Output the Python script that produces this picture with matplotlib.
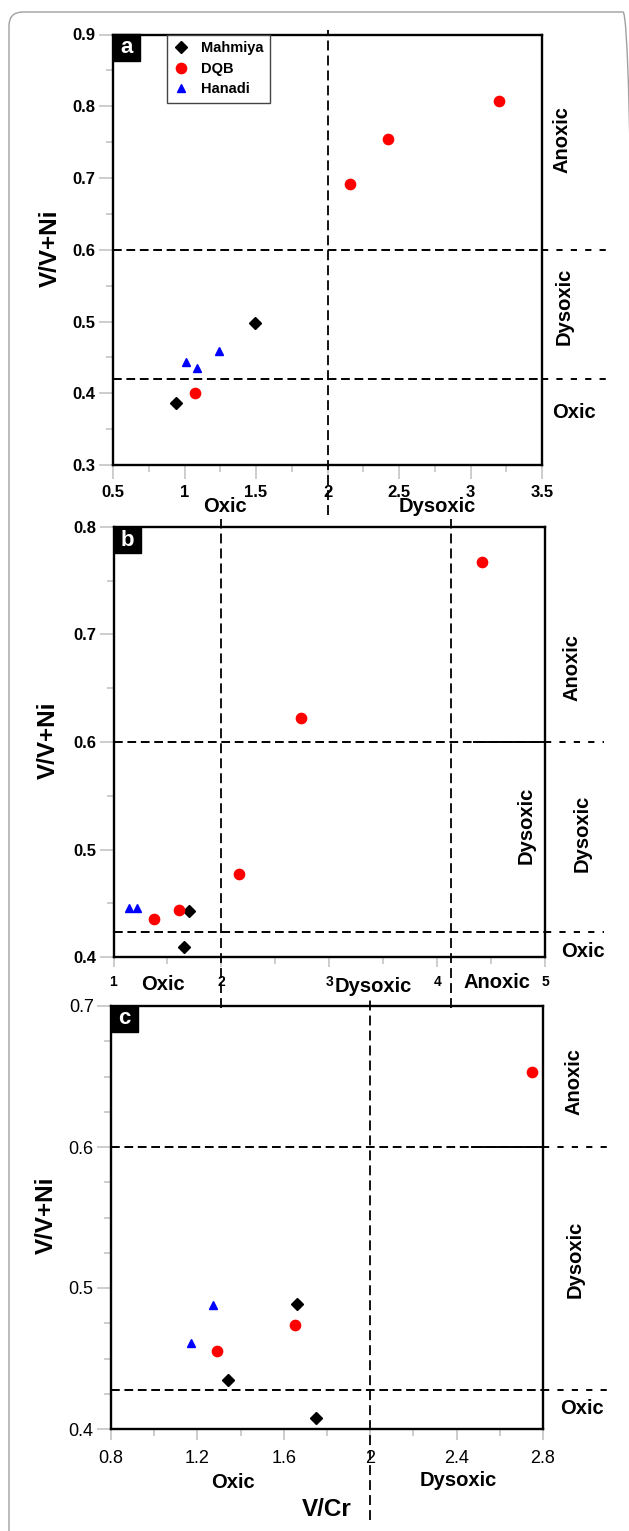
import matplotlib
matplotlib.use('Agg')
import matplotlib.pyplot as plt
from matplotlib.ticker import MultipleLocator, FuncFormatter
from matplotlib.patches import Rectangle, FancyBboxPatch
from matplotlib.transforms import IdentityTransform

# ---- data ----
series_names = ['Mahmiya', 'DQB', 'Hanadi']

# panel a
mah_a_x = [0.94, 1.49]
mah_a_y = [0.387, 0.498]
dqb_a_x = [1.07, 2.16, 2.42, 3.20]
dqb_a_y = [0.400, 0.692, 0.754, 0.808]
han_a_x = [1.01, 1.09, 1.24]
han_a_y = [0.443, 0.435, 0.459]

# panel b
mah_b_x = [1.70, 1.65]
mah_b_y = [0.443, 0.409]
dqb_b_x = [1.38, 1.61, 2.16, 2.74, 4.42]
dqb_b_y = [0.435, 0.444, 0.477, 0.622, 0.767]
han_b_x = [1.14, 1.22]
han_b_y = [0.446, 0.446]

# panel c
mah_c_x = [1.34, 1.66, 1.75]
mah_c_y = [0.435, 0.489, 0.408]
dqb_c_x = [1.29, 1.65, 2.75]
dqb_c_y = [0.455, 0.474, 0.653]
han_c_x = [1.17, 1.27]
han_c_y = [0.461, 0.488]

# thresholds
hlines_a = [0.6, 0.42]
vlines_a = [2]
hlines_b = [0.6, 0.423]
vlines_b = [2, 4.13]
hlines_c = [0.6, 0.428]
vlines_c = [2]

W, H = 629, 1531
plt.rcParams['font.family'] = ['Liberation Sans', 'DejaVu Sans']

fig = plt.figure(figsize=(W / 100, H / 100), dpi=100)


def px_rect(l, r, t, b):
    return [l / W, 1 - b / H, (r - l) / W, (b - t) / H]


def ftext(x, y, s, **kw):
    fig.text(x / W, 1 - y / H, s, ha='center', va='center', **kw)


styles = [dict(marker='D', color='black', ms=5.8),
          dict(marker='o', color='red', ms=7.4),
          dict(marker='^', color='blue', ms=6.2)]

fmt = FuncFormatter(lambda v, p: '%g' % round(v, 3))


def make_panel(rect, xs, ys, xlim, ylim, xstep, ystep, hl, vl,
               hext, vtop, vbot, letter, tick_w, yfs, xfs, xl_len, xpad, solid_from=None):
    ax = fig.add_axes(rect)
    ax.set_facecolor('none')
    for (x, y), st in zip(zip(xs, ys), styles):
        ax.plot(x, y, ls='none', marker=st['marker'], color=st['color'],
                ms=st['ms'], mec=st['color'], zorder=5, clip_on=False)
    ax.set_xlim(*xlim)
    ax.set_ylim(*ylim)
    ax.xaxis.set_major_locator(MultipleLocator(xstep[0]))
    ax.xaxis.set_minor_locator(MultipleLocator(xstep[1]))
    ax.yaxis.set_major_locator(MultipleLocator(ystep[0]))
    ax.yaxis.set_minor_locator(MultipleLocator(ystep[1]))
    ax.xaxis.set_major_formatter(fmt)
    ax.yaxis.set_major_formatter(fmt)
    for s in ax.spines.values():
        s.set_linewidth(1.7)
    ax.tick_params(which='major', axis='y', length=10, width=1.1, color='#c0c0c0',
                   labelsize=yfs, pad=2.5)
    ax.tick_params(which='major', axis='x', length=xl_len, width=1.1, color='#c0c0c0',
                   labelsize=xfs, pad=xpad)
    ax.tick_params(which='minor', length=5, width=1.1, color='#c0c0c0')
    for lab in ax.get_xticklabels() + ax.get_yticklabels():
        lab.set_fontweight(tick_w)

    ytr = ax.get_yaxis_transform()
    xtr = ax.get_xaxis_transform()
    for h in hl:
        ax.plot([0, 1], [h, h], transform=ytr, color='black', lw=1.4,
                dashes=(4.5, 2.4), clip_on=False, zorder=3)
        ax.plot([1, hext], [h, h], transform=ytr, color='black', lw=1.4,
                dashes=(3.2, 4.2), clip_on=False, zorder=3)
    if solid_from is not None:
        ax.plot([solid_from, xlim[1]], [hl[0], hl[0]], color='black', lw=1.4, zorder=3)
    for v in vl:
        ax.plot([v, v], [vbot, vtop], transform=xtr, color='black', lw=1.3,
                dashes=(5.5, 2.8), clip_on=False, zorder=3)

    # panel letter
    bw = 27 / (rect[2] * W)
    bh = 26 / (rect[3] * H)
    ax.add_patch(Rectangle((0, 1 - bh), bw, bh, transform=ax.transAxes,
                           facecolor='black', edgecolor='black', zorder=6, clip_on=False))
    ax.text(bw / 2, 1 - bh / 2, letter, transform=ax.transAxes, color='white',
            fontsize=16, fontweight='bold', ha='center', va='center', zorder=7)
    return ax


# ---- panel a ----
ax_a = make_panel(px_rect(113, 542, 34.5, 465),
                  [mah_a_x, dqb_a_x, han_a_x], [mah_a_y, dqb_a_y, han_a_y],
                  (0.5, 3.5), (0.3, 0.9), (0.5, 0.25), (0.1, 0.05),
                  hlines_a, vlines_a, 1.149, 1.010, -0.116, 'a', 'bold', 12, 12, 10, 4.5)

handles = [plt.Line2D([], [], ls='none', marker=st['marker'], color=st['color'],
                      ms=st['ms']) for st in styles]
leg = ax_a.legend(handles, series_names, loc='upper left', bbox_to_anchor=(0.126, 1.0),
                  borderaxespad=0, frameon=True, fancybox=False, framealpha=1,
                  edgecolor='#444444', handlelength=1.0, handletextpad=0.9,
                  borderpad=0.45, labelspacing=0.45,
                  prop=dict(weight='bold', size=10.5))
leg.get_frame().set_linewidth(1.0)
leg.set_zorder(8)

lab_kw = dict(fontsize=14.5, fontweight='bold')
ftext(50, 248, 'V/V+Ni', rotation=90, fontsize=17.5, fontweight='bold')
ftext(562, 140, 'Anoxic', rotation=90, **lab_kw)
ftext(564, 306, 'Dysoxic', rotation=90, **lab_kw)
ftext(574, 413, 'Oxic', **lab_kw)
ftext(225, 507, 'Oxic', **lab_kw)
ftext(437, 507, 'Dysoxic', **lab_kw)

# ---- panel b ----
ax_b = make_panel(px_rect(113.5, 545, 527, 957),
                  [mah_b_x, dqb_b_x, han_b_x], [mah_b_y, dqb_b_y, han_b_y],
                  (1, 5), (0.4, 0.8), (1, 0.5), (0.1, 0.05),
                  hlines_b, vlines_b, 1.137, 1.019, -0.119, 'b', 'bold', 12, 10, 7, 6,
                  solid_from=4.34)

ftext(48, 740, 'V/V+Ni', rotation=90, fontsize=17.5, fontweight='bold')
ftext(572, 668, 'Anoxic', rotation=90, **lab_kw)
ftext(526, 825, 'Dysoxic', rotation=90, **lab_kw)
ftext(582, 833, 'Dysoxic', rotation=90, **lab_kw)
ftext(583, 952, 'Oxic', **lab_kw)
ftext(163, 984, 'Oxic', **lab_kw)
ftext(373, 987, 'Dysoxic', **lab_kw)
ftext(497, 982, 'Anoxic', **lab_kw)

# ---- panel c ----
ax_c = make_panel(px_rect(111, 543, 1006, 1429),
                  [mah_c_x, dqb_c_x, han_c_x], [mah_c_y, dqb_c_y, han_c_y],
                  (0.8, 2.8), (0.4, 0.7), (0.4, 0.2), (0.1, 0.025),
                  hlines_c, vlines_c, 1.150, 1.014, -0.215, 'c', 'normal', 13, 13, 8, 7)

ftext(46, 1215, 'V/V+Ni', rotation=90, fontsize=17.5, fontweight='bold')
ftext(574, 1082, 'Anoxic', rotation=90, **lab_kw)
ftext(575, 1259, 'Dysoxic', rotation=90, **lab_kw)
ftext(582, 1408, 'Oxic', **lab_kw)
ftext(233, 1482, 'Oxic', **lab_kw)
ftext(458, 1480, 'Dysoxic', **lab_kw)
ftext(327, 1510, 'V/Cr', fontsize=17.5, fontweight='bold')
ax_c.plot([2.47, 2.8], [hlines_c[0], hlines_c[0]], color='black', lw=1.4, zorder=3)

# rounded outer frame
frame = FancyBboxPatch((9, -20), 628, H - 12 + 20, boxstyle='round,pad=0,rounding_size=14',
                       transform=IdentityTransform(), facecolor='none',
                       edgecolor='#a0a0a0', linewidth=1.0)
fig.patches.append(frame)

fig.savefig('out.png', dpi=100)
